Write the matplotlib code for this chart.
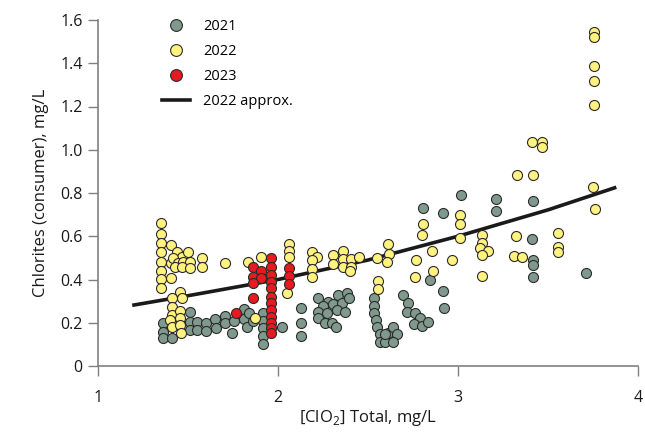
import matplotlib
matplotlib.use('Agg')
import matplotlib.pyplot as plt
from matplotlib.lines import Line2D

plt.rcParams['font.family'] = ['Open Sans', 'DejaVu Sans']
plt.rcParams['mathtext.fontset'] = 'custom'
plt.rcParams['mathtext.rm'] = 'Open Sans'

# 2021 (gray)
x2021 = [1.363, 1.363, 1.363, 1.409, 1.511, 1.511, 1.511, 1.552, 1.552, 1.600, 1.600,
         1.650, 1.656, 1.706, 1.706, 1.743, 1.756, 1.813, 1.811, 1.826, 1.840, 1.859,
         1.918, 1.918, 1.918, 1.918, 1.918, 2.020, 2.126, 2.126, 2.126,
         2.224, 2.279, 2.335, 2.381, 2.252, 2.307, 2.354, 2.396, 2.224, 2.270, 2.326,
         2.372, 2.224, 2.261, 2.298, 2.322,
         2.533, 2.533, 2.533, 2.544, 2.548, 2.567, 2.567, 2.594, 2.613, 2.641, 2.659,
         2.641, 2.594,
         2.693, 2.724, 2.715, 2.761, 2.789, 2.756, 2.798, 2.835,
         2.807, 2.919, 3.015, 2.844, 2.919, 2.924, 3.211, 3.211, 3.415, 3.409, 3.418,
         3.418, 3.418, 3.711]
y2021 = [0.198, 0.159, 0.128, 0.128, 0.251, 0.205, 0.167, 0.205, 0.167, 0.198, 0.162,
         0.216, 0.175, 0.231, 0.198, 0.154, 0.210, 0.262, 0.216, 0.179, 0.244, 0.210,
         0.244, 0.210, 0.175, 0.139, 0.102, 0.182, 0.267, 0.200, 0.139,
         0.313, 0.298, 0.329, 0.336, 0.278, 0.287, 0.290, 0.313, 0.251, 0.244, 0.259,
         0.251, 0.221, 0.198, 0.200, 0.179,
         0.313, 0.278, 0.244, 0.213, 0.182, 0.148, 0.113, 0.113, 0.151, 0.182, 0.148,
         0.113, 0.148,
         0.329, 0.290, 0.251, 0.244, 0.221, 0.194, 0.185, 0.205,
         0.730, 0.707, 0.792, 0.398, 0.347, 0.270, 0.772, 0.719, 0.761, 0.587, 0.491,
         0.468, 0.411, 0.432]

# 2022 (yellow)
x2022 = [1.348, 1.348, 1.348, 1.348, 1.348, 1.348, 1.348, 1.348,
         1.404, 1.404, 1.404,
         1.437, 1.465, 1.418, 1.502, 1.446, 1.474, 1.511, 1.428, 1.465, 1.511, 1.576, 1.576,
         1.456, 1.409, 1.465, 1.409, 1.409, 1.456, 1.400, 1.456, 1.409, 1.456, 1.459,
         1.706, 1.835, 1.906, 1.872,
         2.063, 2.063, 2.063, 2.052,
         2.187, 2.215, 2.187, 2.187, 2.187, 2.307, 2.307, 2.363, 2.363, 2.363, 2.406,
         2.406, 2.400, 2.452, 2.552, 2.613, 2.619, 2.607, 2.557, 2.557,
         2.803, 2.798, 3.011, 3.011, 3.011, 2.854, 2.767, 2.965, 2.859, 2.761,
         3.131, 3.131, 3.122, 3.165, 3.131, 3.131, 3.330, 3.415, 3.409, 3.464, 3.464,
         3.322, 3.311, 3.357, 3.557, 3.557, 3.557, 3.752, 3.763,
         3.757, 3.757, 3.757, 3.757, 3.757]
y2022 = [0.663, 0.611, 0.571, 0.529, 0.480, 0.440, 0.403, 0.360,
         0.560, 0.475, 0.406,
         0.529, 0.506, 0.498, 0.526, 0.475, 0.483, 0.483, 0.460, 0.460, 0.452, 0.498, 0.460,
         0.341, 0.313, 0.316, 0.275, 0.236, 0.255, 0.213, 0.221, 0.182, 0.190, 0.151,
         0.478, 0.483, 0.506, 0.224,
         0.565, 0.534, 0.503, 0.336,
         0.525, 0.503, 0.488, 0.448, 0.413, 0.514, 0.472, 0.534, 0.494, 0.460, 0.494,
         0.460, 0.437, 0.506, 0.498, 0.563, 0.519, 0.483, 0.395, 0.355,
         0.656, 0.606, 0.699, 0.657, 0.591, 0.534, 0.491, 0.488, 0.441, 0.413,
         0.606, 0.568, 0.545, 0.534, 0.514, 0.417, 0.881, 0.884, 1.034, 1.038, 1.015,
         0.602, 0.509, 0.506, 0.617, 0.549, 0.529, 0.830, 0.725,
         1.543, 1.520, 1.386, 1.316, 1.208]

# 2023 (red)
x2023 = [1.963] * 12 + [1.863, 1.906, 1.863, 1.906, 1.863, 1.863, 1.767,
                        2.061, 2.061, 2.061]
y2023 = [0.498, 0.460, 0.421, 0.390, 0.360, 0.321, 0.290, 0.259, 0.228, 0.198, 0.175, 0.151,
         0.460, 0.440, 0.413, 0.409, 0.383, 0.313, 0.244,
         0.455, 0.418, 0.380]

# 2022 approximation curve
x_fit = [1.2, 1.5, 2.0, 2.5, 3.0, 3.5, 3.87]
y_fit = [0.282, 0.325, 0.400, 0.490, 0.600, 0.722, 0.824]

fig = plt.figure(figsize=(6.45, 4.33), dpi=100)
ax = fig.add_axes([98 / 645, 67 / 433, 540 / 645, 346 / 433])

ax.plot(x_fit, y_fit, color='#1a1a1a', lw=2.6, zorder=2)

mk = dict(s=52, edgecolors='#2b2b2b', linewidths=0.8, zorder=3)
ax.scatter(x2021, y2021, c='#7f998d', **mk)
ax.scatter(x2022, y2022, c='#fff27f', **mk)
ax.scatter(x2023, y2023, c='#e8191f', **mk)

ax.set_xlim(1, 4)
ax.set_ylim(0, 1.6)
ax.set_xticks([1, 2, 3, 4])
ax.set_xticklabels(['1', '2', '3', '4'])
yt = [0, 0.2, 0.4, 0.6, 0.8, 1.0, 1.2, 1.4, 1.6]
ax.set_yticks(yt)
ax.set_yticklabels(['0', '0.2', '0.4', '0.6', '0.8', '1.0', '1.2', '1.4', '1.6'])

for s in ['top', 'right']:
    ax.spines[s].set_visible(False)
for s in ['left', 'bottom']:
    ax.spines[s].set_color('#808080')
    ax.spines[s].set_linewidth(1.2)
ax.tick_params(direction='out', length=7, width=1.0, color='#808080',
               labelsize=11.5, labelcolor='#1a1a1a', pad=4)
ax.tick_params(axis='x', pad=10)

ax.set_xlabel('[ClO$_\\mathregular{2}$] Total, mg/L', fontsize=12, color='#1a1a1a', labelpad=2)
ax.set_ylabel('Chlorites (consumer), mg/L', fontsize=12, color='#1a1a1a', labelpad=8)

handles = [
    Line2D([0], [0], marker='o', ls='none', markersize=8.5, markerfacecolor='#7f998d',
           markeredgecolor='#2b2b2b', markeredgewidth=0.8, label='2021'),
    Line2D([0], [0], marker='o', ls='none', markersize=8.5, markerfacecolor='#fff27f',
           markeredgecolor='#2b2b2b', markeredgewidth=0.8, label='2022'),
    Line2D([0], [0], marker='o', ls='none', markersize=8.5, markerfacecolor='#e8191f',
           markeredgecolor='#2b2b2b', markeredgewidth=0.8, label='2023'),
    Line2D([0], [0], color='#1a1a1a', lw=2.6, label='2022 approx.'),
]
ax.legend(handles=handles, loc='upper left', bbox_to_anchor=(0.095, 1.04), frameon=False,
          fontsize=10.5, handlelength=1.9, handletextpad=0.9, labelspacing=0.68)

fig.savefig('out.png', dpi=100)
